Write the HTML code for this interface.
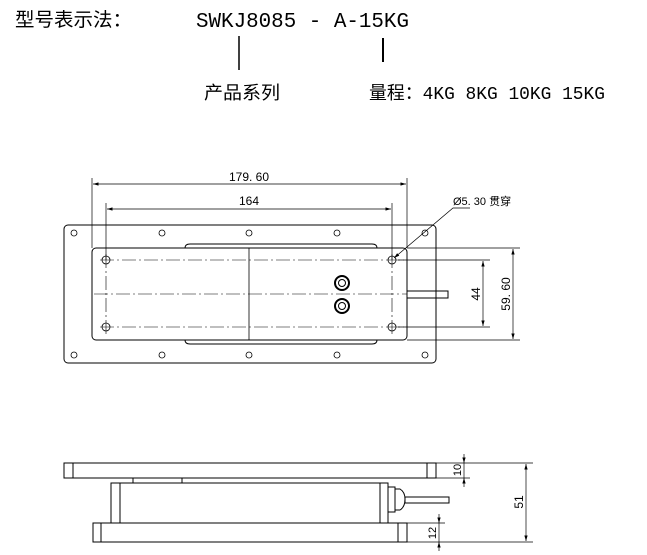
<!DOCTYPE html>
<html><head><meta charset="utf-8"><style>html,body{margin:0;padding:0;background:#fff}svg{display:block}</style></head>
<body>
<svg width="647" height="555" viewBox="0 0 647 555" xmlns="http://www.w3.org/2000/svg" font-family="'Liberation Sans','Noto Sans CJK SC',sans-serif">
<defs>
<marker id="a" viewBox="0 0 10 10" refX="10" refY="5" markerWidth="8" markerHeight="8" orient="auto-start-reverse"><path d="M0,2 L10,5 L0,8 z" fill="#000"/></marker>
</defs>
<!-- header -->
<text x="15" y="26" font-size="19" font-family="'Noto Sans CJK SC',sans-serif" textLength="117" lengthAdjust="spacingAndGlyphs">型号表示法：</text>
<text x="196" y="27" font-size="21" font-family="'Liberation Mono',monospace" textLength="213" lengthAdjust="spacingAndGlyphs">SWKJ8085 - A-15KG</text>
<line x1="239" y1="36" x2="239" y2="70" stroke="#000" stroke-width="1.5"/>
<line x1="383" y1="38" x2="383" y2="62" stroke="#000" stroke-width="2"/>
<text x="204" y="99" font-size="18" font-family="'Noto Sans CJK SC',sans-serif" textLength="76" lengthAdjust="spacingAndGlyphs">产品系列</text>
<text x="369" y="99" font-size="18" font-family="'Liberation Mono','Noto Sans CJK SC',monospace" textLength="236" lengthAdjust="spacingAndGlyphs">量程：4KG 8KG 10KG 15KG</text>

<g fill="none" stroke="#000" stroke-width="1">
<rect x="64" y="225" width="372" height="138" rx="4"/>
<rect x="92" y="248" width="315" height="92" rx="4"/>
<path d="M185,248 Q185,244 190,244 L372,244 Q377,244 377,248"/>
<path d="M185,340 Q185,344 190,344 L372,344 Q377,344 377,340"/>
<g stroke-width="0.8">
<circle cx="74" cy="233" r="3"/><circle cx="162" cy="233" r="3"/><circle cx="249" cy="233" r="3"/><circle cx="337" cy="233" r="3"/><circle cx="425" cy="233" r="3"/>
<circle cx="74" cy="355" r="3"/><circle cx="162" cy="355" r="3"/><circle cx="249" cy="355" r="3"/><circle cx="337" cy="355" r="3"/><circle cx="425" cy="355" r="3"/>
<circle cx="106" cy="260" r="4"/><circle cx="392" cy="260" r="4"/><circle cx="106" cy="327" r="4"/><circle cx="392" cy="327" r="4"/>
</g>
<g stroke-width="0.6" stroke-dasharray="14,3,2,3">
<line x1="94" y1="294" x2="407" y2="294"/>
<line x1="100" y1="260" x2="404" y2="260"/>
<line x1="100" y1="327" x2="404" y2="327"/>
<line x1="106" y1="254" x2="106" y2="334"/>
<line x1="392" y1="254" x2="392" y2="334"/>
</g>
<line x1="249" y1="248" x2="249" y2="340" stroke-width="0.8"/>
<circle cx="342" cy="283" r="7" stroke-width="2"/><circle cx="342" cy="283" r="3.5"/>
<circle cx="342" cy="306" r="7" stroke-width="2"/><circle cx="342" cy="306" r="3.5"/>
<rect x="407" y="291" width="41" height="7"/>
<g stroke-width="0.7">
<line x1="92" y1="178" x2="92" y2="248"/><line x1="407" y1="178" x2="407" y2="248"/>
<line x1="106" y1="203" x2="106" y2="260"/><line x1="392" y1="203" x2="392" y2="260"/>
<line x1="93" y1="184" x2="406" y2="184" marker-start="url(#a)" marker-end="url(#a)"/>
<line x1="107" y1="209" x2="391" y2="209" marker-start="url(#a)" marker-end="url(#a)"/>
<line x1="398" y1="260" x2="490" y2="260"/><line x1="398" y1="327" x2="490" y2="327"/>
<line x1="407" y1="248" x2="520" y2="248"/><line x1="407" y1="340" x2="520" y2="340"/>
<line x1="483" y1="261" x2="483" y2="326" marker-start="url(#a)" marker-end="url(#a)"/>
<line x1="513" y1="249" x2="513" y2="339" marker-start="url(#a)" marker-end="url(#a)"/>
<polyline points="394,258 453,208 470,208" marker-start="url(#a)"/>
</g>
<rect x="64" y="463" width="372" height="15"/>
<line x1="73" y1="463" x2="73" y2="478"/><line x1="427" y1="463" x2="427" y2="478"/>
<rect x="111" y="483" width="277" height="40"/>
<line x1="120" y1="483" x2="120" y2="523"/><line x1="380" y1="483" x2="380" y2="523"/>
<line x1="133" y1="478" x2="133" y2="483"/><line x1="182" y1="478" x2="182" y2="483"/>
<rect x="388" y="487" width="7" height="25"/>
<path d="M395,489 L400,489 Q405,492 405,499 Q405,507 400,510 L395,510"/>
<rect x="405" y="497" width="44" height="6"/>
<rect x="93" y="523" width="314" height="19"/>
<line x1="101" y1="523" x2="101" y2="542"/><line x1="398" y1="523" x2="398" y2="542"/>
<g stroke-width="0.7">
<line x1="436" y1="463" x2="533" y2="463"/><line x1="436" y1="478" x2="470" y2="478"/>
<line x1="407" y1="523" x2="445" y2="523"/><line x1="407" y1="542" x2="533" y2="542"/>
<line x1="464" y1="454" x2="464" y2="463" marker-end="url(#a)"/>
<line x1="464" y1="487" x2="464" y2="478" marker-end="url(#a)"/>
<line x1="464" y1="463" x2="464" y2="478"/>
<line x1="526" y1="464" x2="526" y2="541" marker-start="url(#a)" marker-end="url(#a)"/>
<line x1="439" y1="514" x2="439" y2="523" marker-end="url(#a)"/>
<line x1="439" y1="551" x2="439" y2="542" marker-end="url(#a)"/>
<line x1="439" y1="523" x2="439" y2="542"/>
</g>
</g>
<g font-size="12" fill="#000">
<text x="249" y="181" text-anchor="middle">179. 60</text>
<text x="249" y="205" text-anchor="middle">164</text>
<text x="453" y="205" font-size="11">Ø5. 30 贯穿</text>
<text transform="translate(480,294) rotate(-90)" text-anchor="middle">44</text>
<text transform="translate(510,294) rotate(-90)" text-anchor="middle">59. 60</text>
<text transform="translate(461,470) rotate(-90)" text-anchor="middle" font-size="11">10</text>
<text transform="translate(523,502) rotate(-90)" text-anchor="middle">51</text>
<text transform="translate(436,533) rotate(-90)" text-anchor="middle" font-size="11">12</text>
</g>
</svg>
</body></html>
